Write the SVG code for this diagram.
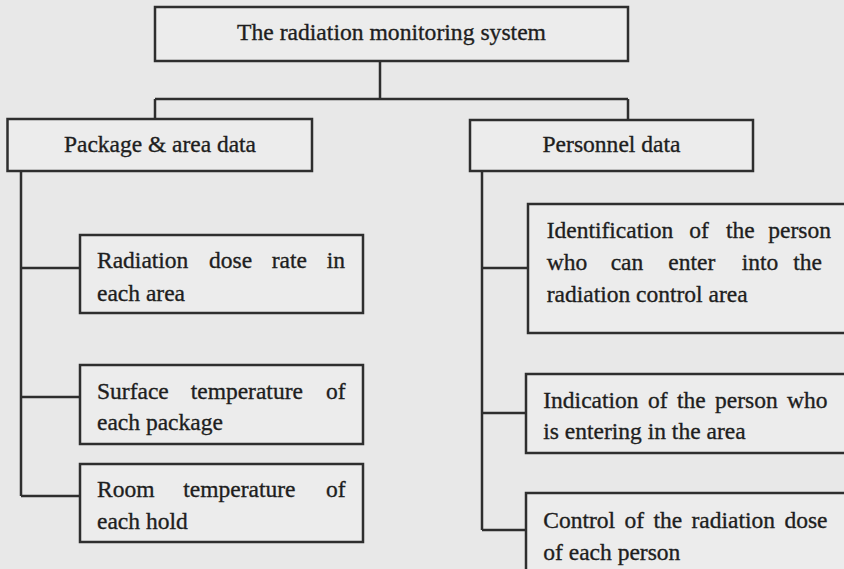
<svg xmlns="http://www.w3.org/2000/svg" width="844" height="569" viewBox="0 0 844 569">
<style>
.box{fill:#ececec;stroke:#2e2e2e;stroke-width:2.5}
.ln{fill:none;stroke:#2e2e2e;stroke-width:2.5}
text{font-family:"Liberation Serif","Times New Roman",serif;font-size:23.5px;fill:#1e1e1e;stroke:#1e1e1e;stroke-width:0.35}
</style>
<rect x="0" y="0" width="844" height="569" fill="#e8e8e8"/>
<g id="connectors">
<path class="ln" d="M380 61V99M155 99H628M155 99V119M628 99V120"/>
<path class="ln" d="M21 171V496M21 268H80M21 397H80M21 496H80"/>
<path class="ln" d="M482 171V530M482 268H528M482 413H526M482 530H526"/>
</g>
<g id="root">
<rect class="box" x="155" y="7" width="473" height="54"/>
<text x="237" y="40" textLength="309" lengthAdjust="spacingAndGlyphs">The radiation monitoring system</text>
</g>
<g id="package">
<rect class="box" x="7.5" y="119" width="304.5" height="52"/>
<text x="64" y="152" textLength="192" lengthAdjust="spacingAndGlyphs">Package &amp; area data</text>
</g>
<g id="personnel">
<rect class="box" x="470" y="120" width="283" height="51"/>
<text x="542.5" y="152" textLength="138" lengthAdjust="spacingAndGlyphs">Personnel data</text>
</g>
<g id="dose-rate">
<rect class="box" x="80" y="235" width="283" height="78"/>
<text y="268"><tspan x="97">Radiation</tspan><tspan x="209">dose</tspan><tspan x="271.7">rate</tspan><tspan x="326.7">in</tspan></text>
<text x="97" y="300.5">each area</text>
</g>
<g id="surface-temp">
<rect class="box" x="80" y="365" width="283" height="79"/>
<text y="399"><tspan x="97">Surface</tspan><tspan x="190.7">temperature</tspan><tspan x="326">of</tspan></text>
<text x="97" y="430">each package</text>
</g>
<g id="room-temp">
<rect class="box" x="80" y="464" width="283" height="78"/>
<text y="497"><tspan x="97">Room</tspan><tspan x="183.3">temperature</tspan><tspan x="326">of</tspan></text>
<text x="97" y="529">each hold</text>
</g>
<g id="identification">
<rect class="box" x="528" y="204" width="330" height="129"/>
<text y="238"><tspan x="546.7">Identification</tspan><tspan x="689.3">of</tspan><tspan x="726">the</tspan><tspan x="768.3">person</tspan></text>
<text y="270"><tspan x="546.7">who</tspan><tspan x="610.7">can</tspan><tspan x="668.3">enter</tspan><tspan x="741.7">into</tspan><tspan x="793.3">the</tspan></text>
<text x="546.7" y="301.7">radiation control area</text>
</g>
<g id="indication">
<rect class="box" x="526" y="374" width="330" height="79"/>
<text x="543.3" y="408" word-spacing="3.5">Indication of the person who</text>
<text x="543.3" y="438.5">is entering in the area</text>
</g>
<g id="dose-control">
<rect class="box" x="526" y="493" width="330" height="90"/>
<text x="543.3" y="528.3" word-spacing="3.5">Control of the radiation dose</text>
<text x="543.3" y="560">of each person</text>
</g>
</svg>
